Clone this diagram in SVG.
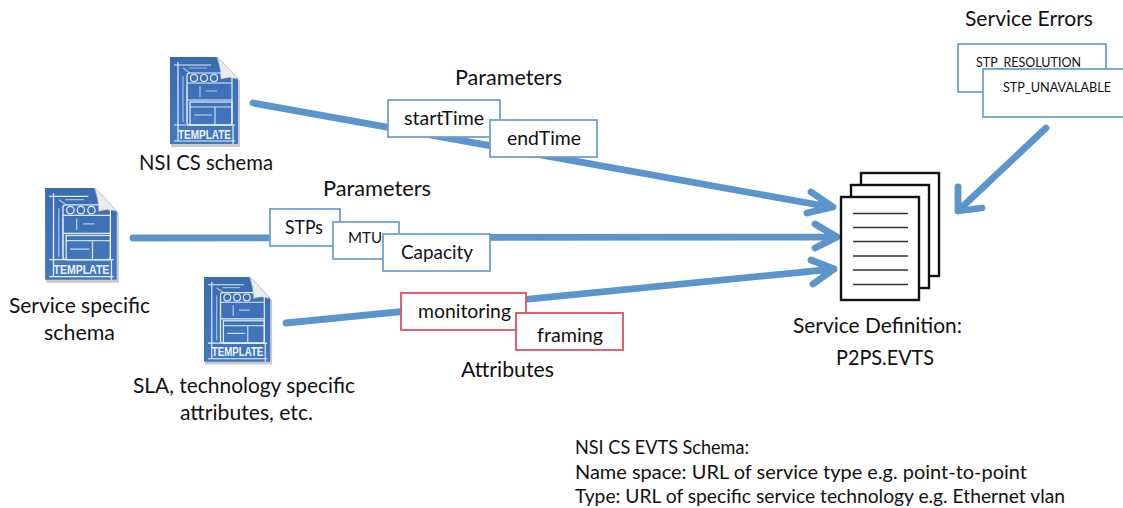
<svg xmlns="http://www.w3.org/2000/svg" xmlns:xlink="http://www.w3.org/1999/xlink" width="1123" height="508" viewBox="0 0 1123 508">
<style>
text{font-family:"Lato","Open Sans","Liberation Sans",sans-serif;fill:#111}
.l{font-size:21px}
.m{font-size:20px}
.s{font-size:13px}
.n{font-size:18.500px}
.b{fill:#fff;stroke:#6fa0d2;stroke-width:1.8}
.r{fill:#fff;stroke:#e0505f;stroke-width:1.8}
.c{fill:none;stroke:#5b95cb;stroke-width:6.800;stroke-linecap:round;stroke-linejoin:round}
.p{fill:#fff;stroke:#111;stroke-width:2.400}
.d{stroke:#333;stroke-width:1.700}
.w{fill:none;stroke:#e6eefa;stroke-width:1.200}
.t{font-family:"Liberation Sans",sans-serif;font-size:12.500px;font-weight:700;fill:#eef4fc}
</style>
<defs>
<linearGradient id="g" x1="0" y1="0" x2="0" y2="1"><stop offset="0" stop-color="#3a6cb2"/><stop offset="1" stop-color="#4379bf"/></linearGradient>
<symbol id="tpl" width="74" height="94" viewBox="0 0 74 94" overflow="visible">
<path d="M2 3H49L71 25V91H2Z" fill="#8a8a8a" opacity=".45"/>
<path d="M1 1H48Q56 8 69 23V88H1Z" fill="url(#g)"/>
<path d="M48 1Q56 8 69 23Q60 20 52 23Q52 12 48 1Z" fill="#ececec" stroke="#bbb" stroke-width=".6"/>
<path class="w" d="M5 69H66M9 6V85M5 9H42M5 85H66M64 69V88"/>
<path class="w" d="M14 12L21 17M20 12H38M14 20V66M18 30V66" opacity=".6"/>
<rect class="w" x="18" y="17" width="45" height="52" rx="2.500" stroke-width="1.500"/>
<path class="w" d="M18 27H63M18 44H63" stroke-width="1.400"/>
<circle class="w" cx="25" cy="22" r="3.500" stroke-width="1.400"/><circle class="w" cx="35" cy="22" r="3.500" stroke-width="1.400"/><circle class="w" cx="45" cy="22" r="3.500" stroke-width="1.400"/>
<path class="w" d="M31 30V41M37 35H48" opacity=".7"/>
<rect class="w" x="21" y="46" width="42" height="23" stroke-width="1.300"/>
<path class="w" d="M21 51H63M46 51V69M25 59H43" opacity=".85"/>
<text class="t" x="9" y="82.500" textLength="53" lengthAdjust="spacingAndGlyphs">TEMPLATE</text>
</symbol>
</defs>
<rect width="1123" height="508" fill="#fff"/>
<g id="connectors">
<path class="c" d="M253 103L830 207M811 192L833 207L807 213"/>
<path class="c" d="M133 238L836 237M815 224L837 237L815 248"/>
<path class="c" d="M286 323L834 269M811 260L834 269L813 284"/>
<path class="c" d="M1046 128L959 210M958 187L958 211L982 208"/>
</g>
<g id="schema-nsi"><use xlink:href="#tpl" href="#tpl" x="169" y="56"/><text class="l" x="139" y="170" textLength="134" lengthAdjust="spacingAndGlyphs">NSI CS schema</text></g>
<g id="schema-service"><use xlink:href="#tpl" href="#tpl" x="44" y="187" width="78" height="99"/><text class="l" x="9" y="313" textLength="141" lengthAdjust="spacingAndGlyphs">Service specific</text><text class="l" x="44" y="340" textLength="71" lengthAdjust="spacingAndGlyphs">schema</text></g>
<g id="schema-sla"><use xlink:href="#tpl" href="#tpl" x="203" y="276" width="72" height="91.500"/><text class="l" x="133" y="393" textLength="222" lengthAdjust="spacingAndGlyphs">SLA, technology specific</text><text class="l" x="180" y="420" textLength="133" lengthAdjust="spacingAndGlyphs">attributes, etc.</text></g>
<g id="params-top"><text class="l" x="455" y="85" textLength="107" lengthAdjust="spacingAndGlyphs">Parameters</text>
<g id="startTime"><rect class="b" x="388" y="100" width="112" height="37"/><text class="m" x="404" y="125" textLength="80" lengthAdjust="spacingAndGlyphs">startTime</text></g>
<g id="endTime"><rect class="b" x="490" y="120" width="107" height="37"/><text class="m" x="507" y="145" textLength="74" lengthAdjust="spacingAndGlyphs">endTime</text></g></g>
<g id="params-mid"><text class="l" x="323" y="196" textLength="108" lengthAdjust="spacingAndGlyphs">Parameters</text>
<g id="STPs"><rect class="b" x="270" y="209" width="70" height="37"/><text class="m" x="285" y="234" textLength="38" lengthAdjust="spacingAndGlyphs">STPs</text></g>
<g id="MTU"><rect class="b" x="333" y="222" width="66" height="37"/><text class="s" style="font-size:14.500px" x="348" y="243" textLength="34" lengthAdjust="spacingAndGlyphs">MTU</text></g>
<g id="Capacity"><rect class="b" x="383" y="234" width="107" height="37"/><text class="m" x="401" y="259" textLength="72" lengthAdjust="spacingAndGlyphs">Capacity</text></g></g>
<g id="attrs"><text class="l" x="461" y="377" textLength="93" lengthAdjust="spacingAndGlyphs">Attributes</text>
<g id="monitoring"><rect class="r" x="401" y="293" width="125" height="37"/><text class="m" x="418" y="318" textLength="93" lengthAdjust="spacingAndGlyphs">monitoring</text></g>
<g id="framing"><rect class="r" x="516" y="313" width="107" height="37"/><text class="m" x="537" y="342" textLength="66" lengthAdjust="spacingAndGlyphs">framing</text></g></g>
<g id="errors"><text class="l" x="965" y="26" textLength="128" lengthAdjust="spacingAndGlyphs">Service Errors</text>
<g id="STP_RESOLUTION"><rect class="b" x="958" y="44" width="148" height="48"/><text class="s" x="976" y="67" textLength="105" lengthAdjust="spacingAndGlyphs">STP_RESOLUTION</text></g>
<g id="STP_UNAVALABLE"><rect class="b" x="983" y="69" width="145" height="48"/><text class="s" x="1003" y="92" textLength="108" lengthAdjust="spacingAndGlyphs">STP_UNAVALABLE</text></g></g>
<g id="service-definition">
<rect class="p" x="861" y="173" width="78" height="103"/>
<rect class="p" x="851" y="185" width="78" height="103"/>
<rect class="p" x="841" y="197" width="78" height="103"/>
<path class="d" d="M853 213.500H908M853 227.500H908M853 241.500H908M853 256H908M853 270H908M853 284.500H908"/>
<text class="l" x="793" y="333" textLength="169" lengthAdjust="spacingAndGlyphs">Service Definition:</text><text class="l" x="836" y="365" textLength="98" lengthAdjust="spacingAndGlyphs">P2PS.EVTS</text>
</g>
<g id="note"><text class="n" x="575" y="454" textLength="174" lengthAdjust="spacingAndGlyphs">NSI CS EVTS Schema:</text><text class="n" x="575" y="479" textLength="452" lengthAdjust="spacingAndGlyphs">Name space: URL of service type e.g. point-to-point</text><text class="n" x="575" y="503" textLength="490" lengthAdjust="spacingAndGlyphs">Type: URL of specific service technology e.g. Ethernet vlan</text></g>
</svg>
